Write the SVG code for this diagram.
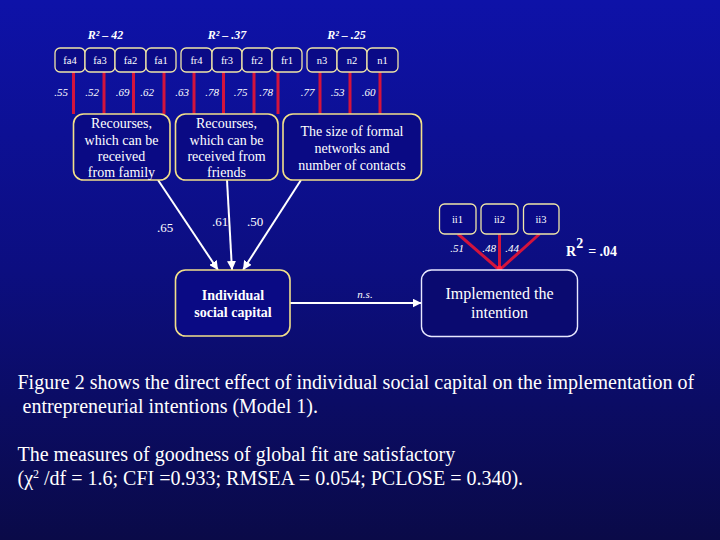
<svg xmlns="http://www.w3.org/2000/svg" width="720" height="540" viewBox="0 0 720 540">
<defs>
<linearGradient id="bg" x1="0" y1="0" x2="0" y2="1">
<stop offset="0" stop-color="#0e12a8"/>
<stop offset="0.5" stop-color="#0c0e80"/>
<stop offset="1" stop-color="#0a0a48"/>
</linearGradient>
<marker id="arr" viewBox="0 0 10 10" refX="10" refY="5" markerWidth="9" markerHeight="9" markerUnits="userSpaceOnUse" orient="auto">
<path d="M0,0 L10,5 L0,10 z" fill="#ffffff"/>
</marker>
<style>
.sb{fill:#0a0a86;stroke:#f0e6a8;stroke-width:1.3}
.bb{fill:#0a0a84;stroke:#f2e08a;stroke-width:1.6}
.wb{fill:#0a0a70;stroke:#e8e8ff;stroke-width:1.4}
.t{font-family:"Liberation Serif","Times New Roman",serif;fill:#ffffff;text-anchor:middle}
.s{font-size:10.5px}
.lab{font-size:11px;font-style:italic}
.r2{font-size:12px;font-style:italic;font-weight:bold}
.big{font-size:14px}
.red{stroke:#d3143c;stroke-width:3;fill:none}
.wl{stroke:#ffffff;stroke-width:2;fill:none}
.body{font-family:"Liberation Serif","Times New Roman",serif;fill:#ffffff;font-size:20px}
</style>
</defs>
<rect x="0" y="0" width="720" height="540" fill="url(#bg)"/>

<g id="connectors">
<line class="red" x1="73.5" y1="72" x2="73.5" y2="114"/>
<line class="red" x1="104" y1="72" x2="104" y2="114"/>
<line class="red" x1="133.5" y1="72" x2="133.5" y2="114"/>
<line class="red" x1="164" y1="72" x2="164" y2="114"/>
<line class="red" x1="194" y1="72" x2="194" y2="114"/>
<line class="red" x1="223.5" y1="72" x2="223.5" y2="114"/>
<line class="red" x1="254" y1="72" x2="254" y2="114"/>
<line class="red" x1="278" y1="72" x2="278" y2="114"/>
<line class="red" x1="320" y1="72" x2="320" y2="114"/>
<line class="red" x1="350" y1="72" x2="350" y2="114"/>
<line class="red" x1="380" y1="72" x2="380" y2="114"/>
<line class="red" x1="458" y1="234" x2="499.5" y2="270"/>
<line class="red" x1="499.5" y1="234" x2="499.5" y2="270"/>
<line class="red" x1="539.5" y1="234" x2="499.5" y2="270"/>
<circle cx="499.5" cy="268" r="2.5" fill="#ff2040"/>
<line class="wl" x1="158" y1="180" x2="218" y2="270" marker-end="url(#arr)"/>
<line class="wl" x1="227" y1="180" x2="232" y2="270" marker-end="url(#arr)"/>
<line class="wl" x1="301" y1="180" x2="243" y2="270" marker-end="url(#arr)"/>
<line class="wl" x1="290" y1="303" x2="421.5" y2="303" marker-end="url(#arr)"/>
</g>

<g id="r2-labels">
<text class="t r2" x="105.5" y="39">R² – 42</text>
<text class="t r2" x="227" y="39">R² – .37</text>
<text class="t r2" x="346.5" y="39">R² – .25</text>
</g>

<g id="fa4"><rect class="sb" x="55" y="48" width="30" height="24" rx="5"/><text class="t s" x="70" y="64">fa4</text></g>
<g id="fa3"><rect class="sb" x="85" y="48" width="30" height="24" rx="5"/><text class="t s" x="100" y="64">fa3</text></g>
<g id="fa2"><rect class="sb" x="115" y="48" width="31" height="24" rx="5"/><text class="t s" x="130.5" y="64">fa2</text></g>
<g id="fa1"><rect class="sb" x="146" y="48" width="30" height="24" rx="5"/><text class="t s" x="161" y="64">fa1</text></g>
<g id="fr4"><rect class="sb" x="181" y="48" width="31" height="24" rx="5"/><text class="t s" x="196.5" y="64">fr4</text></g>
<g id="fr3"><rect class="sb" x="212" y="48" width="30" height="24" rx="5"/><text class="t s" x="227" y="64">fr3</text></g>
<g id="fr2"><rect class="sb" x="242" y="48" width="30" height="24" rx="5"/><text class="t s" x="257" y="64">fr2</text></g>
<g id="fr1"><rect class="sb" x="272" y="48" width="30" height="24" rx="5"/><text class="t s" x="287" y="64">fr1</text></g>
<g id="n3"><rect class="sb" x="307" y="48" width="30" height="24" rx="5"/><text class="t s" x="322" y="64">n3</text></g>
<g id="n2"><rect class="sb" x="337" y="48" width="30" height="24" rx="5"/><text class="t s" x="352" y="64">n2</text></g>
<g id="n1"><rect class="sb" x="367" y="48" width="31" height="24" rx="5"/><text class="t s" x="382.5" y="64">n1</text></g>

<g id="loadings">
<text class="t lab" x="61" y="96">.55</text>
<text class="t lab" x="92" y="96">.52</text>
<text class="t lab" x="122.5" y="96">.69</text>
<text class="t lab" x="147" y="96">.62</text>
<text class="t lab" x="182" y="96">.63</text>
<text class="t lab" x="212" y="96">.78</text>
<text class="t lab" x="240.5" y="96">.75</text>
<text class="t lab" x="266" y="96">.78</text>
<text class="t lab" x="307.5" y="96">.77</text>
<text class="t lab" x="337.5" y="96">.53</text>
<text class="t lab" x="368.5" y="96">.60</text>
</g>

<g id="family">
<rect class="bb" x="73.5" y="114" width="96.5" height="66" rx="10"/>
<text class="t big" x="121.5" y="128">Recourses,</text>
<text class="t big" x="121.5" y="145">which can be</text>
<text class="t big" x="121.5" y="161">received</text>
<text class="t big" x="121.5" y="177">from family</text>
</g>
<g id="friends">
<rect class="bb" x="175.5" y="114" width="102.5" height="66" rx="10"/>
<text class="t big" x="226.5" y="128">Recourses,</text>
<text class="t big" x="226.5" y="145">which can be</text>
<text class="t big" x="226.5" y="161">received from</text>
<text class="t big" x="226.5" y="177">friends</text>
</g>
<g id="networks">
<rect class="bb" x="283" y="114" width="138.5" height="66" rx="10"/>
<text class="t big" x="352" y="136">The size of formal</text>
<text class="t big" x="352" y="153">networks and</text>
<text class="t big" x="352" y="170">number of contacts</text>
</g>

<g id="path-labels">
<text class="t" font-size="13" x="165" y="232">.65</text>
<text class="t" font-size="13" x="220" y="226">.61</text>
<text class="t" font-size="13" x="255" y="226">.50</text>
<text class="t lab" x="365" y="298">n.s.</text>
<text class="t lab" x="457" y="252">.51</text>
<text class="t lab" x="489" y="252">.48</text>
<text class="t lab" x="512" y="252">.44</text>
</g>

<g id="isc">
<rect class="bb" x="175.5" y="270" width="114.5" height="66" rx="10"/>
<text class="t big" font-weight="bold" x="233" y="300">Individual</text>
<text class="t big" font-weight="bold" x="233" y="317">social capital</text>
</g>

<g id="implemented">
<rect class="wb" x="421.5" y="270" width="156" height="66.5" rx="10"/>
<text class="t" font-size="16" x="499.5" y="299">Implemented the</text>
<text class="t" font-size="16" x="499.5" y="318">intention</text>
</g>

<g id="ii1"><rect class="sb" x="439.5" y="204" width="36.5" height="30" rx="5"/><text class="t s" x="457.5" y="223">ii1</text></g>
<g id="ii2"><rect class="sb" x="481" y="204" width="37" height="30" rx="5"/><text class="t s" x="499.5" y="223">ii2</text></g>
<g id="ii3"><rect class="sb" x="523.5" y="204" width="35.5" height="30" rx="5"/><text class="t s" x="541" y="223">ii3</text></g>

<g id="r2-implemented">
<text font-family="'Liberation Serif','Times New Roman',serif" fill="#ffffff" font-weight="bold" x="566" y="256"><tspan font-size="14">R</tspan><tspan font-size="14" dy="-8">2</tspan><tspan font-size="14" dy="8" dx="5">= .04</tspan></text>
</g>

<g id="caption">
<text class="body" x="17.5" y="389">Figure 2 shows the direct effect of individual social capital on the implementation of</text>
<text class="body" x="22.5" y="413">entrepreneurial intentions (Model 1).</text>
<text class="body" x="17.5" y="461">The measures of goodness of global fit are satisfactory</text>
<text class="body" x="17.5" y="485">(χ<tspan font-size="12" dy="-7">2</tspan><tspan dy="7"> /df = 1.6; CFI =0.933; RMSEA = 0.054; PCLOSE = 0.340).</tspan></text>
</g>
</svg>
